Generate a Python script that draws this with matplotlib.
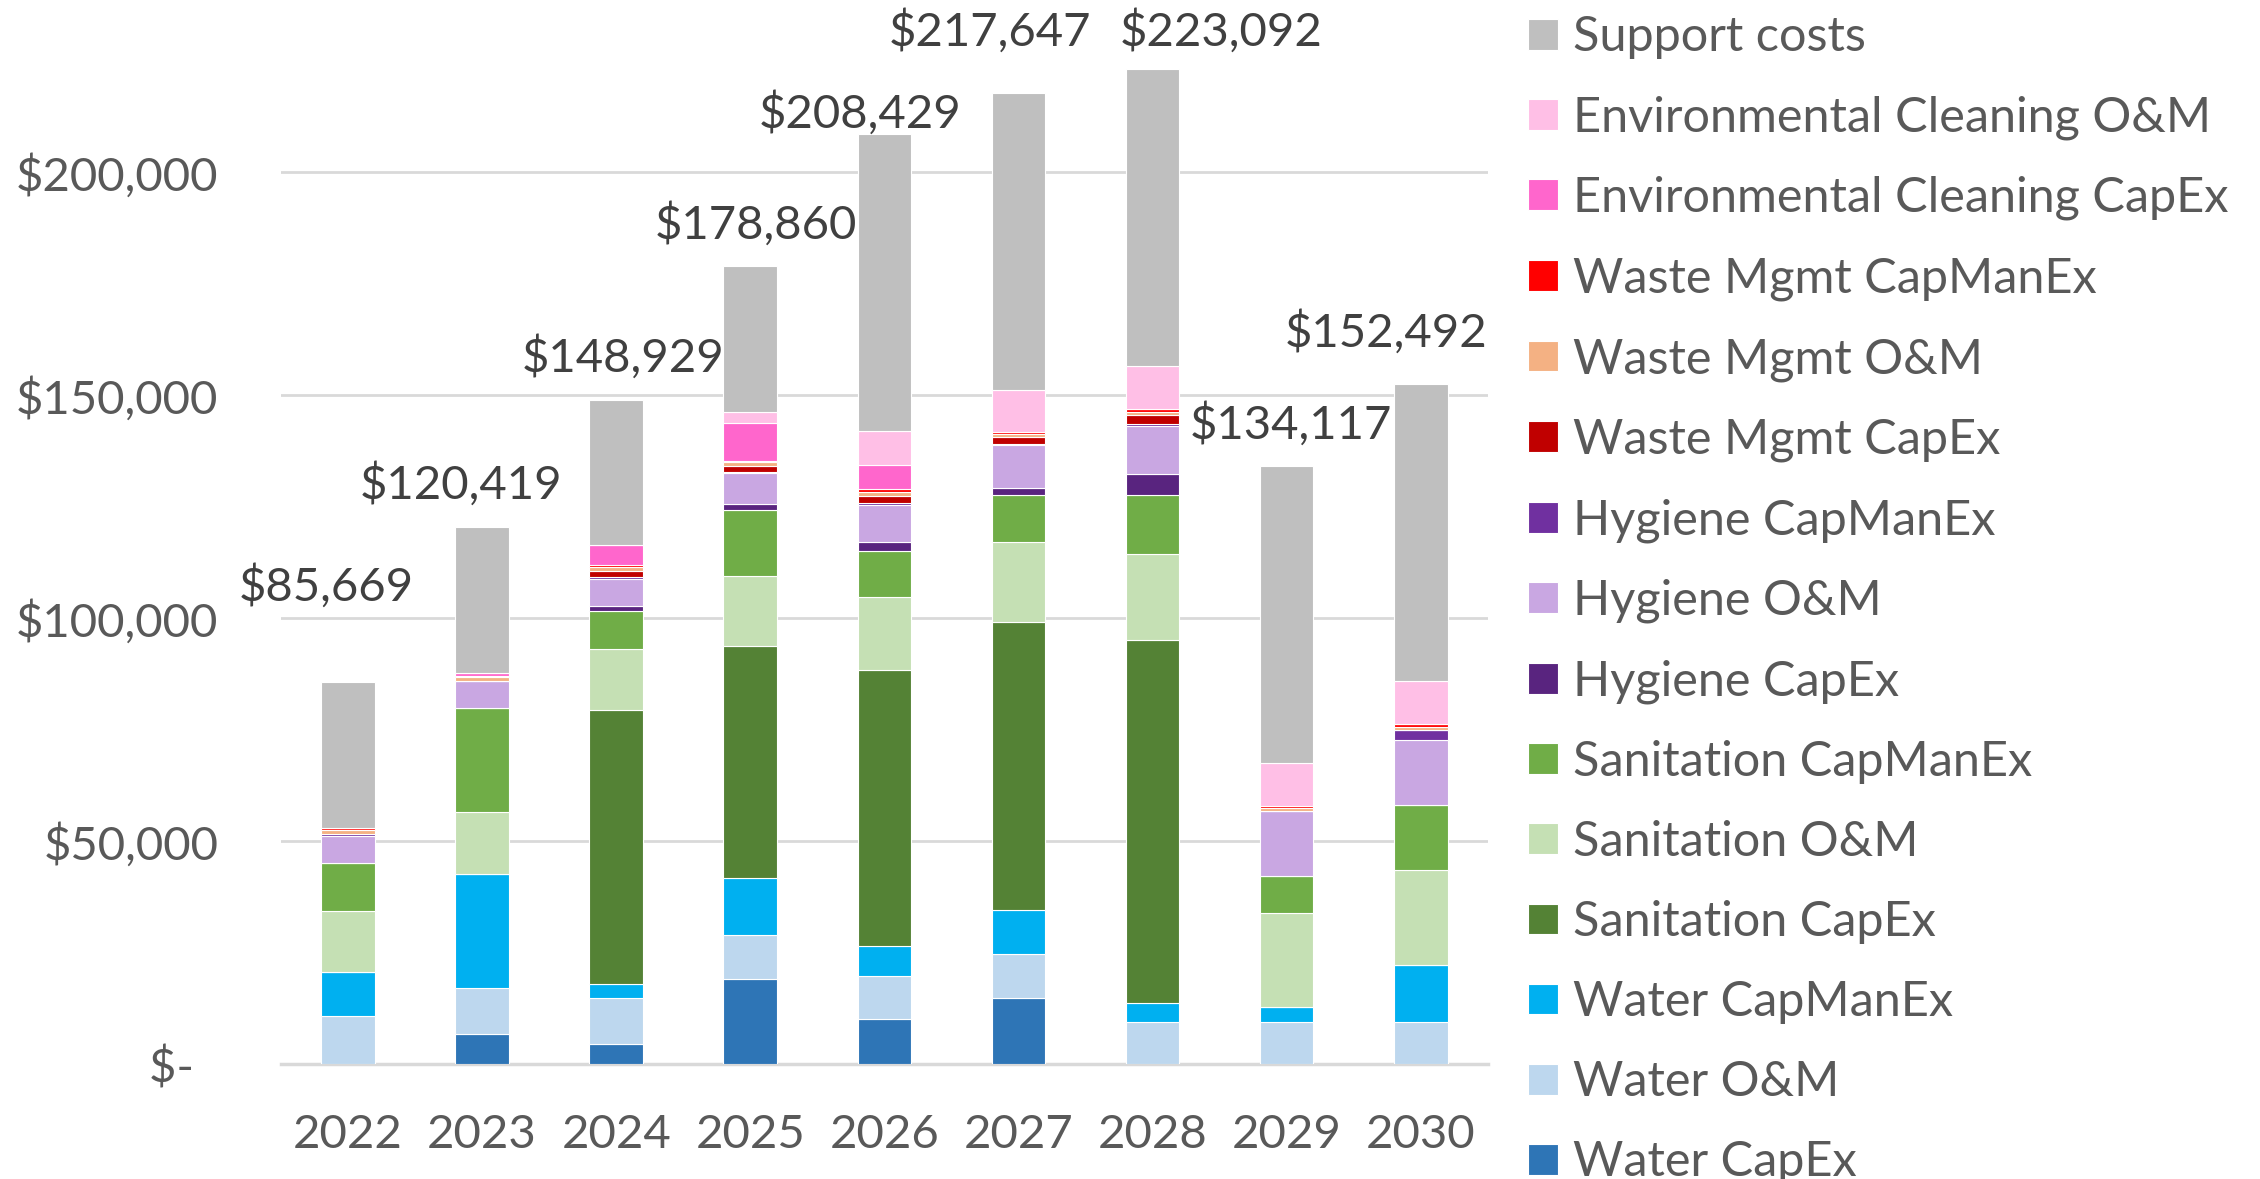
import matplotlib
matplotlib.use('Agg')
import matplotlib.pyplot as plt
import numpy as np

plt.rcParams['font.family'] = ['Lato', 'DejaVu Sans']

years = ['2022', '2023', '2024', '2025', '2026', '2027', '2028', '2029', '2030']

# cost per year, bottom of the stack first
water_capex = [0, 6890, 4640, 19040, 10120, 14830, 0, 0, 0]
water_om = [10850, 10180, 10110, 9920, 9720, 9820, 9520, 9570, 9570]
water_capmanex = [9880, 25670, 3290, 12730, 6710, 9920, 4110, 3250, 12730]
sanitation_capex = [0, 0, 61320, 52100, 61720, 64630, 81360, 0, 0]
sanitation_om = [13700, 13700, 13770, 15630, 16530, 17740, 19340, 21120, 21210]
sanitation_capmanex = [10630, 23430, 8360, 14730, 10320, 10720, 13230, 8210, 14620]
hygiene_capex = [0, 0, 1190, 1400, 2000, 1500, 4610, 0, 0]
hygiene_om = [5990, 5910, 5970, 6910, 8220, 9620, 10820, 14530, 14530]
hygiene_capmanex = [600, 200, 600, 200, 500, 200, 600, 0, 2260]
waste_capex = [0, 0, 1270, 1500, 1400, 1500, 1800, 0, 0]
waste_om = [820, 800, 820, 800, 1000, 700, 800, 720, 720]
waste_capmanex = [520, 300, 600, 300, 600, 400, 600, 540, 630]
env_capex = [0, 670, 4330, 8420, 5510, 0, 0, 0, 0]
env_om = [0, 0, 0, 2600, 7520, 9420, 9640, 9480, 9570]
support = [32679, 32669, 32659, 32580, 66559, 66647, 66662, 66697, 66652]

series = [
    ('Water CapEx', water_capex, '#2E75B6'),
    ('Water O&M', water_om, '#BDD7EE'),
    ('Water CapManEx', water_capmanex, '#00B0F0'),
    ('Sanitation CapEx', sanitation_capex, '#548235'),
    ('Sanitation O&M', sanitation_om, '#C5E0B4'),
    ('Sanitation CapManEx', sanitation_capmanex, '#70AD47'),
    ('Hygiene CapEx', hygiene_capex, '#59247F'),
    ('Hygiene O&M', hygiene_om, '#C9A7E2'),
    ('Hygiene CapManEx', hygiene_capmanex, '#7030A0'),
    ('Waste Mgmt CapEx', waste_capex, '#C00000'),
    ('Waste Mgmt O&M', waste_om, '#F4B183'),
    ('Waste Mgmt CapManEx', waste_capmanex, '#FF0000'),
    ('Environmental Cleaning CapEx', env_capex, '#FF66CC'),
    ('Environmental Cleaning O&M', env_om, '#FFBFE6'),
    ('Support costs', support, '#BFBFBF'),
]

# hand-placed total labels (offset from bar centre / bar top)
label_dx = [-0.16, -0.16, 0.05, 0.04, -0.18, -0.21, 0.51, 0.03, -0.26]
label_dy = [18160, 6320, 6340, 6050, 1410, 10610, 5170, 6100, 8390]

fig = plt.figure(figsize=(22.6, 11.79), dpi=100)
ax = fig.add_axes([0.1243, 0.0973, 0.534, 0.9027])

x = np.arange(len(years))
bottom = np.zeros(len(years))
for name, vals, col in series:
    ax.bar(x, vals, 0.40, bottom=bottom, color=col, label=name,
           edgecolor='white', linewidth=0.8, zorder=3)
    bottom += np.array(vals)

for i, tot in enumerate(bottom):
    ax.text(x[i] + label_dx[i], tot + label_dy[i], f'${tot:,.0f}',
            ha='center', va='baseline', fontsize=34, color='#404040')

ax.set_xlim(-0.5, len(years) - 0.5)
ax.set_ylim(0, 238500)
ax.set_yticks([0, 50000, 100000, 150000, 200000])
ax.set_yticklabels(['$-  ', '$50,000', '$100,000', '$150,000', '$200,000'])
ax.set_xticks(x)
ax.set_xticklabels(years)
ax.tick_params(axis='y', length=0, pad=45, labelsize=34, labelcolor='#595959')
ax.tick_params(axis='x', length=0, pad=36, labelsize=34, labelcolor='#595959')
ax.grid(axis='y', color='#D9D9D9', linewidth=2, zorder=0)
for s in ['top', 'right', 'left']:
    ax.spines[s].set_visible(False)
ax.spines['bottom'].set_color('#D9D9D9')
ax.spines['bottom'].set_linewidth(2.5)

h, l = ax.get_legend_handles_labels()
leg = fig.legend(h[::-1], l[::-1], loc='upper left', bbox_to_anchor=(0.676, 0.987),
                 frameon=False, fontsize=35, handlelength=0.62, handleheight=0.6,
                 handletextpad=0.32, labelspacing=0.742, borderpad=0, borderaxespad=0)
for t in leg.get_texts():
    t.set_color('#595959')

plt.savefig('out.png', dpi=100)
